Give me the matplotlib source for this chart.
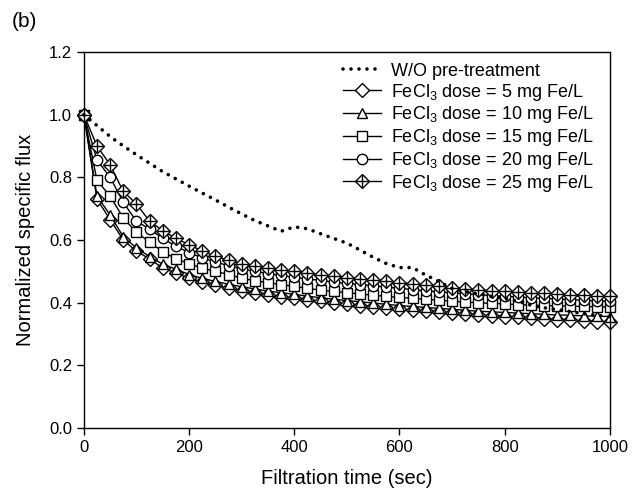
import numpy as np
import matplotlib
matplotlib.use("Agg")
import matplotlib.pyplot as plt
from matplotlib.lines import Line2D

plt.rcParams['font.family'] = ['Liberation Sans', 'DejaVu Sans']
plt.rcParams['mathtext.fontset'] = 'custom'
plt.rcParams['mathtext.rm'] = 'Liberation Sans'
plt.rcParams['mathtext.it'] = 'Liberation Sans:italic'

# filtration time (sec), one point every 25 s
time = np.arange(0, 1001, 25)

wo_pre = [1.0, 0.965, 0.93, 0.90, 0.872, 0.845, 0.818, 0.795, 0.772, 0.75,
          0.728, 0.705, 0.683, 0.662, 0.645, 0.628, 0.642, 0.636, 0.62, 0.605,
          0.59, 0.568, 0.545, 0.525, 0.512, 0.512, 0.488, 0.468, 0.445, 0.436,
          0.428, 0.42, 0.413, 0.405, 0.392, 0.384, 0.378, 0.372, 0.365, 0.36, 0.355]
dose5 = [1.0, 0.73, 0.665, 0.60, 0.564, 0.54, 0.51, 0.495, 0.478, 0.465,
         0.455, 0.446, 0.438, 0.431, 0.425, 0.419, 0.414, 0.409, 0.404, 0.399,
         0.395, 0.391, 0.387, 0.383, 0.379, 0.376, 0.373, 0.37, 0.367, 0.364,
         0.361, 0.358, 0.356, 0.353, 0.351, 0.348, 0.346, 0.344, 0.342, 0.34, 0.338]
dose10 = [1.0, 0.74, 0.68, 0.61, 0.575, 0.547, 0.523, 0.507, 0.49, 0.478,
          0.468, 0.459, 0.451, 0.444, 0.437, 0.432, 0.427, 0.421, 0.416, 0.411,
          0.407, 0.403, 0.399, 0.395, 0.391, 0.388, 0.385, 0.382, 0.379, 0.376,
          0.373, 0.371, 0.369, 0.367, 0.365, 0.363, 0.361, 0.36, 0.358, 0.357, 0.356]
dose15 = [1.0, 0.79, 0.74, 0.67, 0.625, 0.593, 0.563, 0.54, 0.525, 0.51,
          0.50, 0.49, 0.478, 0.47, 0.464, 0.458, 0.452, 0.446, 0.44, 0.436,
          0.432, 0.428, 0.424, 0.42, 0.417, 0.414, 0.411, 0.408, 0.405, 0.402,
          0.40, 0.398, 0.396, 0.394, 0.392, 0.391, 0.39, 0.389, 0.388, 0.387, 0.386]
dose20 = [1.0, 0.855, 0.80, 0.72, 0.66, 0.635, 0.605, 0.58, 0.56, 0.543,
          0.53, 0.518, 0.508, 0.50, 0.493, 0.487, 0.481, 0.476, 0.471, 0.466,
          0.462, 0.458, 0.454, 0.45, 0.446, 0.442, 0.438, 0.435, 0.432, 0.429,
          0.426, 0.423, 0.42, 0.418, 0.416, 0.414, 0.412, 0.41, 0.408, 0.406, 0.405]
dose25 = [1.0, 0.90, 0.84, 0.755, 0.715, 0.66, 0.63, 0.605, 0.585, 0.565,
          0.548, 0.535, 0.525, 0.518, 0.51, 0.505, 0.50, 0.494, 0.489, 0.484,
          0.48, 0.476, 0.472, 0.468, 0.464, 0.46, 0.456, 0.452, 0.448, 0.444,
          0.441, 0.438, 0.436, 0.434, 0.432, 0.43, 0.428, 0.426, 0.424, 0.423, 0.422]

labels = ["W/O pre-treatment",
          "FeCl$_3$ dose = 5 mg Fe/L",
          "FeCl$_3$ dose = 10 mg Fe/L",
          "FeCl$_3$ dose = 15 mg Fe/L",
          "FeCl$_3$ dose = 20 mg Fe/L",
          "FeCl$_3$ dose = 25 mg Fe/L"]

fig = plt.figure(figsize=(6.4, 4.99), dpi=100)
ax = fig.add_axes([0.131, 0.142, 0.822, 0.754])

common = dict(color="black", linewidth=1.0, markerfacecolor="white",
              markeredgecolor="black", markeredgewidth=1.0, clip_on=False)

l0, = ax.plot(time, wo_pre, color="black", linewidth=2.6,
              linestyle=(0, (0.01, 2.2)), dash_capstyle="round",
              zorder=5, clip_on=False)
l1, = ax.plot(time, dose5, marker="D", markersize=7.0, zorder=2, **common)
l2, = ax.plot(time, dose10, marker="^", markersize=7.5, zorder=2, **common)
l3, = ax.plot(time, dose15, marker="s", markersize=7.0, zorder=2, **common)
l4, = ax.plot(time, dose20, marker="o", markersize=7.5, zorder=2, **common)
l5, = ax.plot(time, dose25, marker="D", markersize=7.0, zorder=3, **common)
ax.plot(time, dose25, linestyle="none", marker="+", markersize=8.5,
        markeredgecolor="black", markeredgewidth=1.0, zorder=3, clip_on=False)

# legend handle for crossed diamond
h5 = (l5, Line2D([], [], linestyle="none", marker="+", markersize=8.5,
                 markeredgecolor="black", markeredgewidth=1.0))

ax.legend([l0, l1, l2, l3, l4, h5], labels, loc="upper right", frameon=False,
          fontsize=13, labelspacing=0.1, handlelength=2.1, handletextpad=0.55,
          borderaxespad=0.2, bbox_to_anchor=(0.99, 1.0))

ax.set_xlim(0, 1000)
ax.set_ylim(0, 1.2)
ax.set_xticks(np.arange(0, 1001, 200))
ax.set_yticks(np.arange(0, 1.21, 0.2))
ax.set_yticklabels([f"{v:.1f}" for v in np.arange(0, 1.21, 0.2)])
ax.tick_params(direction="out", length=5, width=1, labelsize=12,
               top=False, right=False)
for s in ax.spines.values():
    s.set_linewidth(1.0)

ax.set_xlabel("Filtration time (sec)", fontsize=14.5, labelpad=10)
ax.set_ylabel("Normalized specific flux", fontsize=14.5, labelpad=10)
fig.text(0.018, 0.945, "(b)", fontsize=15)

plt.savefig("out.png", dpi=100)
